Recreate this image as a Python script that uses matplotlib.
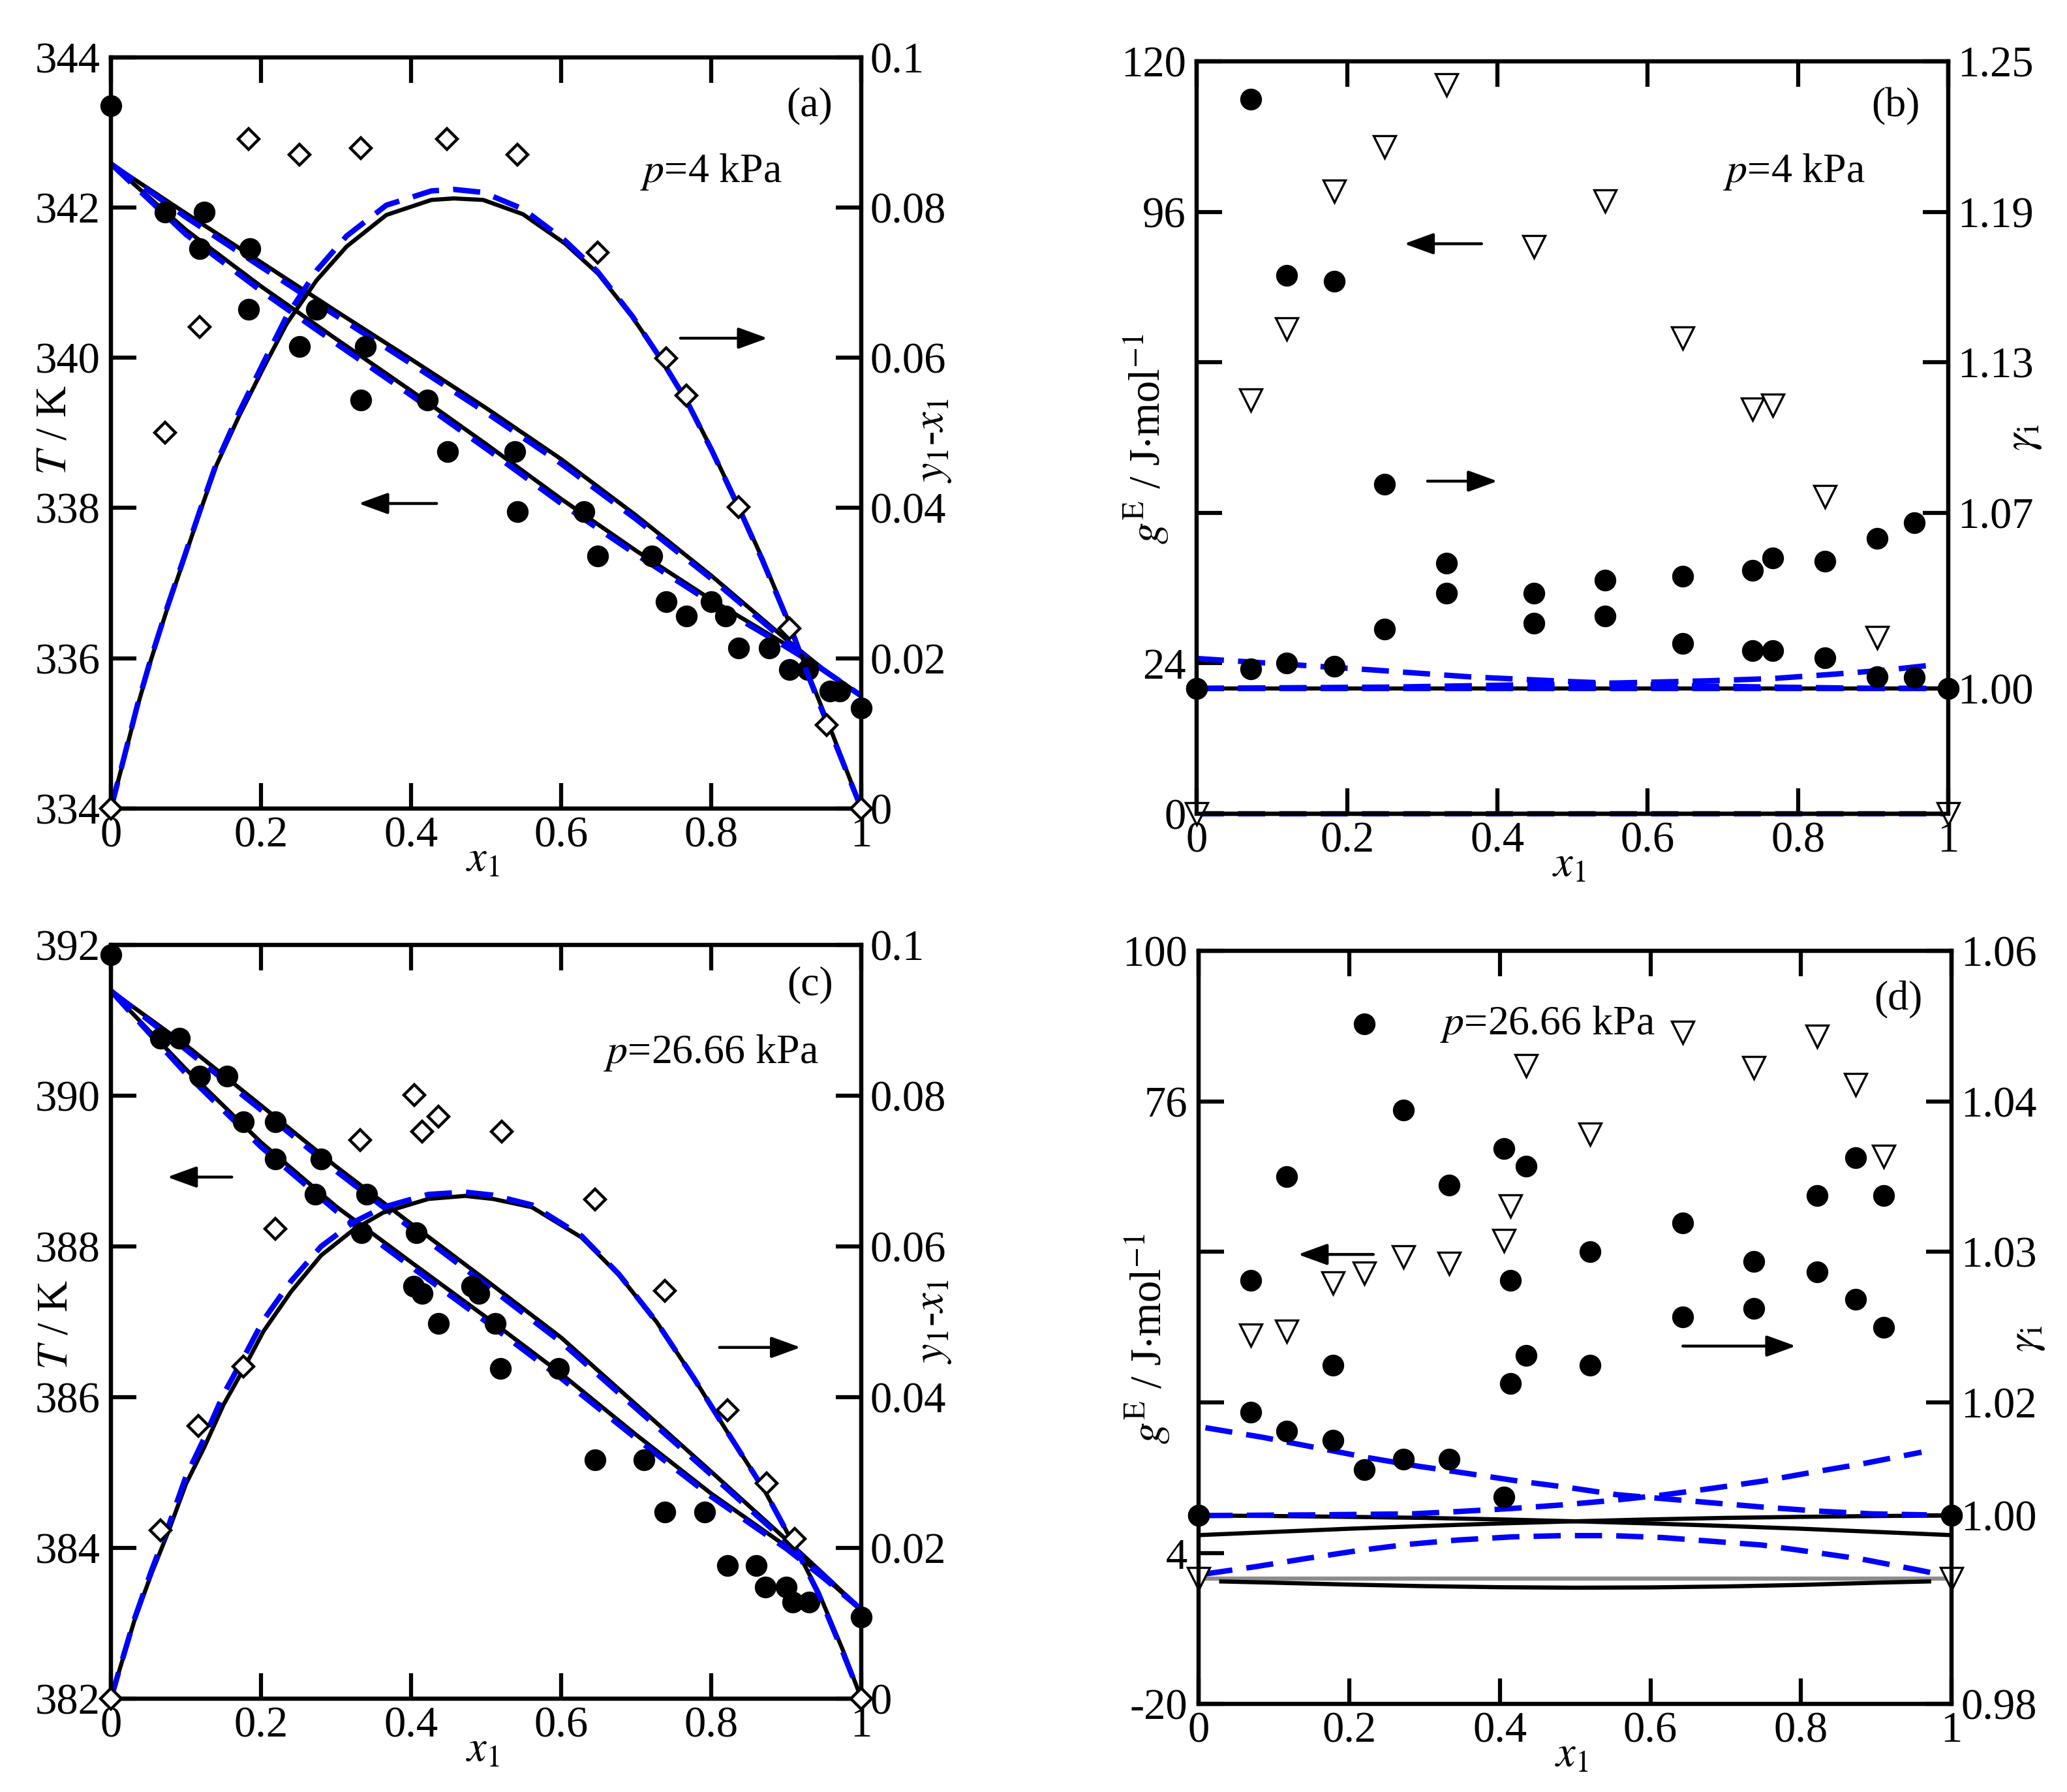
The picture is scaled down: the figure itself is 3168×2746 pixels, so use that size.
import numpy as np
import matplotlib
matplotlib.use('Agg')
import matplotlib.pyplot as plt

plt.rcParams['font.family'] = 'Liberation Serif'
plt.rcParams['mathtext.fontset'] = 'stix'

######### panel (a)  p = 4 kPa
a_x_liq = [0, 0.072, 0.118, 0.183, 0.251, 0.333, 0.449, 0.542, 0.649, 0.740, 0.767, 0.836, 0.904, 0.958, 1.0]
a_T_liq = [343.35, 341.94, 341.45, 340.64, 340.15, 339.44, 338.75, 337.95, 337.36, 336.75, 336.56, 336.14, 335.85, 335.56, 335.34]
a_y_vap = [0.124, 0.185, 0.274, 0.339, 0.422, 0.538, 0.630, 0.721, 0.800, 0.819, 0.877, 0.929, 0.971]
a_T_vap = [341.94, 341.45, 340.64, 340.15, 339.44, 338.75, 337.95, 337.36, 336.75, 336.56, 336.14, 335.85, 335.56]
a_dx = [0, 0.072, 0.118, 0.183, 0.251, 0.333, 0.448, 0.542, 0.649, 0.740, 0.767, 0.836, 0.904, 0.954, 1.0]
a_dy = [0, 0.050, 0.0641, 0.0891, 0.087, 0.0879, 0.0891, 0.087, 0.074, 0.0599, 0.055, 0.0401, 0.024, 0.0111, 0]

grid_x = [0, 0.1, 0.2, 0.3, 0.4, 0.5, 0.6, 0.7, 0.8, 0.9, 0.95, 1.0]
a_dew = [342.58, 341.92, 341.27, 340.62, 339.98, 339.33, 338.65, 337.90, 337.10, 336.25, 335.85, 335.50]
a_bub = [342.58, 341.70, 340.95, 340.25, 339.56, 338.85, 338.12, 337.43, 336.78, 336.18, 335.85, 335.50]
a_dew_b = [342.58, 341.87, 341.21, 340.56, 339.92, 339.27, 338.59, 337.85, 337.06, 336.22, 335.84, 335.50]
a_bub_b = [342.58, 341.64, 340.89, 340.19, 339.50, 338.79, 338.06, 337.38, 336.74, 336.15, 335.84, 335.50]

a_cx = [0, 0.035, 0.053, 0.075, 0.095, 0.118, 0.141, 0.171, 0.204, 0.234, 0.274, 0.314, 0.367, 0.427,
        0.457, 0.496, 0.549, 0.605, 0.649, 0.695, 0.735, 0.768, 0.801, 0.835, 0.868, 0.905, 0.928, 0.962, 1.0]
a_cy = [0, 0.0135, 0.0197, 0.0266, 0.0325, 0.0393, 0.0458, 0.0523, 0.0588, 0.0645, 0.0703, 0.0748, 0.0790, 0.0810,
        0.0812, 0.0810, 0.0791, 0.0752, 0.0712, 0.0654, 0.0595, 0.0542, 0.0477, 0.0405, 0.0333, 0.0245, 0.0183, 0.0098, 0]
a_cy_b = [0, 0.0137, 0.0199, 0.0268, 0.0327, 0.0395, 0.0461, 0.0528, 0.0595, 0.0655, 0.0716, 0.0762, 0.0803, 0.0822,
          0.0824, 0.0820, 0.0798, 0.0756, 0.0714, 0.0655, 0.0595, 0.0541, 0.0476, 0.0404, 0.0331, 0.0243, 0.0180, 0.0095, 0]

######### panel (b)  p = 4 kPa
b_tx = [0, 0.0716, 0.1195, 0.1827, 0.25, 0.3325, 0.4487, 0.543, 0.6465, 0.739, 0.766, 0.836, 0.905, 1.0]
b_gE = [0, 65.95, 77.3, 99.3, 106.4, 116.2, 90.4, 97.7, 75.9, 64.5, 65.1, 50.6, 28.1, 0]
b_cx = [0, 0.0716, 0.1195, 0.1827, 0.25, 0.3325, 0.4487, 0.543, 0.6465, 0.739, 0.766, 0.836, 0.905, 0.955, 1.0]
b_g1 = [1.0, 1.2349, 1.1646, 1.1623, 1.0815, 1.050, 1.0379, 1.0432, 1.0448, 1.0471, 1.0519, 1.0508, 1.0599, 1.0661, 1.0]
b_g2 = [1.0, 1.0077, 1.010, 1.0089, 1.0237, 1.0379, 1.026, 1.0288, 1.018, 1.015, 1.015, 1.0123, 1.0047, 1.0043, 1.0]
b_m1x = [0, 0.118, 0.236, 0.362, 0.497, 0.631, 0.766, 0.9, 1.0]
b_m1 = [1.0119, 1.0096, 1.0073, 1.0046, 1.0027, 1.0011, 1.0005, 1.0, 1.0]
b_m2x = [0, 0.26, 0.513, 0.68, 0.766, 0.85, 0.918, 0.976]
b_m2 = [1.0, 1.0005, 1.0018, 1.003, 1.0039, 1.0057, 1.0073, 1.0092]

######### panel (c)  p = 26.66 kPa
c_x_liq = [0, 0.0664, 0.118, 0.176, 0.219, 0.272, 0.334, 0.403, 0.415, 0.436, 0.519, 0.645, 0.738, 0.822, 0.872, 0.909, 1.0]
c_T_liq = [391.87, 390.76, 390.26, 389.65, 389.16, 388.69, 388.18, 387.47, 387.38, 386.98, 386.38, 385.17, 384.48, 383.77, 383.48, 383.28, 383.08]
c_y_vap = [0.0914, 0.155, 0.219, 0.28, 0.341, 0.407, 0.481, 0.490, 0.512, 0.596, 0.710, 0.791, 0.860, 0.900, 0.930]
c_T_vap = [390.76, 390.26, 389.65, 389.16, 388.69, 388.18, 387.47, 387.38, 386.98, 386.38, 385.17, 384.48, 383.77, 383.48, 383.28]
c_dx = [0, 0.066, 0.116, 0.176, 0.219, 0.332, 0.404, 0.415, 0.436, 0.521, 0.645, 0.738, 0.822, 0.874, 0.911, 1.0]
c_dy = [0, 0.0223, 0.0362, 0.0441, 0.0623, 0.0741, 0.0801, 0.0752, 0.0772, 0.0752, 0.0662, 0.0541, 0.0383, 0.0286, 0.0212, 0]

c_dew = [391.39, 390.67, 389.87, 389.06, 388.30, 387.55, 386.79, 385.90, 385.01, 384.11, 383.65, 383.18]
c_bub = [391.39, 390.35, 389.38, 388.53, 387.79, 387.06, 386.31, 385.50, 384.72, 384.02, 383.62, 383.18]
c_dew_b = [391.39, 390.61, 389.81, 389.00, 388.24, 387.49, 386.73, 385.85, 384.97, 384.08, 383.63, 383.18]
c_bub_b = [391.39, 390.29, 389.32, 388.47, 387.73, 387.00, 386.25, 385.45, 384.68, 383.99, 383.60, 383.18]

c_cx = [0, 0.011, 0.031, 0.054, 0.077, 0.100, 0.124, 0.150, 0.177, 0.203, 0.240, 0.280, 0.323, 0.363, 0.423,
        0.472, 0.509, 0.561, 0.627, 0.677, 0.727, 0.777, 0.820, 0.870, 0.913, 0.943, 0.976, 1.0]
c_cy = [0, 0.0037, 0.0103, 0.0166, 0.0223, 0.0285, 0.0333, 0.0390, 0.0438, 0.0487, 0.0540, 0.0588, 0.0622, 0.0645, 0.0663,
        0.0667, 0.0663, 0.0652, 0.0612, 0.0562, 0.0500, 0.0425, 0.0356, 0.0278, 0.0199, 0.0141, 0.0063, 0]
c_cy_b = [0, 0.0038, 0.0105, 0.0170, 0.0230, 0.0295, 0.0345, 0.0404, 0.0453, 0.0502, 0.0554, 0.0600, 0.0632, 0.0652, 0.0669,
          0.0672, 0.0668, 0.0655, 0.0614, 0.0563, 0.0500, 0.0425, 0.0356, 0.0278, 0.0199, 0.0139, 0.0060, 0]

######### panel (d)  p = 26.66 kPa
d_tx = [0, 0.069, 0.117, 0.178, 0.220, 0.272, 0.333, 0.405, 0.414, 0.435, 0.520, 0.643, 0.737, 0.821, 0.872, 0.910, 1.0]
d_gE = [0, 38.7, 39.4, 47.1, 48.6, 51.2, 50.2, 53.8, 59.3, 81.7, 70.8, 87.0, 81.4, 86.4, 78.7, 67.2, 0]
d_cx = [0, 0.069, 0.117, 0.178, 0.220, 0.272, 0.333, 0.405, 0.414, 0.435, 0.520, 0.643, 0.737, 0.821, 0.872, 0.910, 1.0]
d_g1 = [1.0, 1.0250, 1.0360, 1.0160, 1.0522, 1.0431, 1.0351, 1.0390, 1.0250, 1.0371, 1.0280, 1.0311, 1.0270, 1.0340, 1.0380, 1.0340, 1.0]
d_g2 = [1.0, 1.0110, 1.0090, 1.0080, 1.0049, 1.0060, 1.0060, 1.0020, 1.0140, 1.0170, 1.0160, 1.0211, 1.0220, 1.0259, 1.0230, 1.0200, 1.0]

d_k1 = [0.99792, 0.99826, 0.99860, 0.99889, 0.99916, 0.99939, 0.99959, 0.99975, 0.99986, 0.99995, 1.0]
d_k2 = [1.0, 0.99995, 0.99986, 0.99975, 0.99959, 0.99939, 0.99916, 0.99889, 0.99860, 0.99826, 0.99792]
d_kx = [0, 0.1, 0.2, 0.3, 0.4, 0.5, 0.6, 0.7, 0.8, 0.9, 1.0]
d_kgx = [0.03, 0.1, 0.2, 0.3, 0.4, 0.5, 0.6, 0.7, 0.8, 0.9, 0.97]
d_kgE = [-0.5, -0.7, -1.0, -1.25, -1.42, -1.5, -1.45, -1.3, -1.05, -0.7, -0.5]
d_b1x = [0.009, 0.085, 0.158, 0.224, 0.29, 0.357, 0.423, 0.489, 0.556, 0.622, 0.688, 0.755, 0.828, 0.894, 0.967]
d_b1 = [1.00933, 1.00831, 1.00718, 1.00616, 1.00526, 1.00447, 1.00368, 1.00300, 1.00221, 1.00176, 1.00131, 1.00086, 1.00045, 1.00018, 1.00007]
d_b2x = [0.009, 0.151, 0.284, 0.35, 0.416, 0.483, 0.549, 0.615, 0.682, 0.748, 0.814, 0.881, 0.96]
d_b2 = [1.0, 1.00007, 1.00018, 1.00045, 1.00075, 1.00113, 1.0016, 1.00217, 1.00289, 1.00364, 1.00458, 1.00549, 1.00673]
d_bgx = [0.009, 0.078, 0.145, 0.211, 0.277, 0.344, 0.416, 0.483, 0.549, 0.615, 0.682, 0.748, 0.814, 0.881, 0.954, 0.975]
d_bgE = [0.7, 1.9, 3.2, 4.4, 5.4, 6.1, 6.6, 6.8, 6.8, 6.5, 5.9, 5.3, 4.2, 3.05, 1.36, 0.85]

xt = [0, 0.2, 0.4, 0.6, 0.8, 1.0]
xtl = ['0', '0.2', '0.4', '0.6', '0.8', '1']

FS = 48
LW = 4.6
BLW = 6
BLUE = '#0000ff'
DASH = (5, 2.6)
circ = dict(marker='o', ls='none', color='k', ms=23, clip_on=False, zorder=5)
diam = dict(marker='D', ls='none', mfc='white', mec='k', mew=3.2, ms=16, clip_on=False, zorder=5)
tri = dict(marker='v', ls='none', mfc='white', mec='k', mew=2.4, ms=24, clip_on=False, zorder=5)

fig = plt.figure(figsize=(31.68, 27.46), dpi=100)


def make(rect, ylim, yt, ytl, ylim2, yt2, ytl2):
    ax = fig.add_axes(rect)
    tw = ax.twinx()
    ax.set_xlim(0, 1)
    ax.set_ylim(*ylim)
    tw.set_ylim(*ylim2)
    ax.set_xticks(xt)
    ax.set_xticklabels(xtl)
    ax.set_yticks(yt)
    ax.set_yticklabels(ytl)
    tw.set_yticks(yt2)
    tw.set_yticklabels(ytl2)
    ax.tick_params(axis='x', direction='in', length=28, width=4.5, labelsize=FS, top=True, pad=8)
    ax.tick_params(axis='y', direction='in', length=28, width=4.5, labelsize=FS, right=False, pad=12)
    tw.tick_params(axis='y', direction='in', length=28, width=4.5, labelsize=FS, pad=10)
    for a in (ax, tw):
        for s in a.spines.values():
            s.set_linewidth(4.5)
    ax.text(0.495, -0.068, r'$x_1$', transform=ax.transAxes, ha='center', va='center', fontsize=FS)
    return ax, tw


def arrow(a, x0, x1, y):
    a.annotate('', xy=(x1, y), xytext=(x0, y),
               arrowprops=dict(arrowstyle='-|>,head_length=0.55,head_width=0.2', lw=3.2, color='k',
                               mutation_scale=50, shrinkA=0, shrinkB=0))


######## (a)
ax, tw = make([0.0537, 0.5488, 0.363, 0.4193], (334, 344), [334, 336, 338, 340, 342, 344],
              ['334', '336', '338', '340', '342', '344'],
              (0, 0.1), [0, 0.02, 0.04, 0.06, 0.08, 0.1], ['0', '0.02', '0.04', '0.06', '0.08', '0.1'])
ax.plot(grid_x, a_dew, color='k', lw=LW)
ax.plot(grid_x, a_bub, color='k', lw=LW)
ax.plot(grid_x, a_dew_b, color=BLUE, lw=BLW, dashes=DASH)
ax.plot(grid_x, a_bub_b, color=BLUE, lw=BLW, dashes=DASH)
ax.plot(a_x_liq, a_T_liq, **circ)
ax.plot(a_y_vap, a_T_vap, **circ)
tw.plot(a_cx, a_cy, color='k', lw=LW, clip_on=False)
tw.plot(a_cx, a_cy_b, color=BLUE, lw=BLW, dashes=DASH, clip_on=False)
tw.plot(a_dx, a_dy, **diam)
arrow(ax, 0.434, 0.330, 338.06)
arrow(tw, 0.759, 0.875, 0.0626)
ax.text(-0.075, 0.504, r'$T$ / K', transform=ax.transAxes, rotation=90, ha='center', va='center', fontsize=FS)
tw.text(1.096, 0.49, r'$y_1$-$x_1$', transform=tw.transAxes, rotation=90, ha='center', va='center', fontsize=FS)
tw.text(0.931, 0.935, '(a)', transform=tw.transAxes, ha='center', va='center', fontsize=46)
tw.text(0.80, 0.847, r'$p$=4 kPa', transform=tw.transAxes, ha='center', va='center', fontsize=46)

######## (b)
ax, tw = make([0.579, 0.5459, 0.3636, 0.4199], (0, 120), [0, 24, 48, 72, 96, 120],
              ['0', '24', '', '', '96', '120'],
              (0.95, 1.25), [1.00, 1.07, 1.13, 1.19, 1.25], ['1.00', '1.07', '1.13', '1.19', '1.25'])
ax.plot([0, 1], [0, 0], color='k', lw=LW, clip_on=False)
ax.plot([0, 1], [0, 0], color=BLUE, lw=BLW, dashes=DASH, clip_on=False)
tw.plot([0, 1], [1.0, 1.0], color='k', lw=LW)
tw.plot([0, 1], [1.0, 1.0], color=BLUE, lw=BLW, dashes=DASH)
tw.plot(b_m1x, b_m1, color=BLUE, lw=BLW, dashes=DASH)
tw.plot(b_m2x, b_m2, color=BLUE, lw=BLW, dashes=DASH)
ax.plot(b_tx, b_gE, **tri)
tw.plot(b_cx, b_g1, **circ)
tw.plot(b_cx, b_g2, **circ)
arrow(ax, 0.379, 0.276, 90.9)
arrow(tw, 0.307, 0.40, 1.0826)
ax.text(-0.067, 0.498, r'$g^{\rm E}$ / J$\cdot$mol$^{{-}1}$', transform=ax.transAxes, rotation=90,
        ha='center', va='center', fontsize=FS)
tw.text(1.10, 0.50, r'$\gamma_{\rm i}$', transform=tw.transAxes, rotation=90, ha='center', va='center', fontsize=FS)
tw.text(0.93, 0.94, '(b)', transform=tw.transAxes, ha='center', va='center', fontsize=46)
tw.text(0.795, 0.853, r'$p$=4 kPa', transform=tw.transAxes, ha='center', va='center', fontsize=46)

######## (c)
ax, tw = make([0.0537, 0.0521, 0.363, 0.4206], (382, 392), [382, 384, 386, 388, 390, 392],
              ['382', '384', '386', '388', '390', '392'],
              (0, 0.1), [0, 0.02, 0.04, 0.06, 0.08, 0.1], ['0', '0.02', '0.04', '0.06', '0.08', '0.1'])
ax.plot(grid_x, c_dew, color='k', lw=LW)
ax.plot(grid_x, c_bub, color='k', lw=LW)
ax.plot(grid_x, c_dew_b, color=BLUE, lw=BLW, dashes=DASH)
ax.plot(grid_x, c_bub_b, color=BLUE, lw=BLW, dashes=DASH)
ax.plot(c_x_liq, c_T_liq, **circ)
ax.plot(c_y_vap, c_T_vap, **circ)
tw.plot(c_cx, c_cy, color='k', lw=LW, clip_on=False)
tw.plot(c_cx, c_cy_b, color=BLUE, lw=BLW, dashes=DASH, clip_on=False)
tw.plot(c_dx, c_dy, **diam)
arrow(ax, 0.161, 0.075, 388.92)
arrow(tw, 0.811, 0.919, 0.0466)
ax.text(-0.073, 0.496, r'$T$ / K', transform=ax.transAxes, rotation=90, ha='center', va='center', fontsize=FS)
tw.text(1.096, 0.50, r'$y_1$-$x_1$', transform=tw.transAxes, rotation=90, ha='center', va='center', fontsize=FS)
tw.text(0.932, 0.947, '(c)', transform=tw.transAxes, ha='center', va='center', fontsize=46)
tw.text(0.80, 0.857, r'$p$=26.66 kPa', transform=tw.transAxes, ha='center', va='center', fontsize=46)

######## (d)
ax, tw = make([0.5799, 0.0492, 0.3643, 0.4203], (-20, 100), [-20, 4, 28, 52, 76, 100],
              ['-20', '4', '', '', '76', '100'],
              (0.98, 1.06), [0.98, 1.00, 1.012, 1.028, 1.044, 1.06],
              ['0.98', '1.00', '1.02', '1.03', '1.04', '1.06'])
ax.plot([0, 1], [0, 0], color='#8c8c8c', lw=LW)
ax.plot(d_kgx, d_kgE, color='k', lw=LW)
ax.plot(d_bgx, d_bgE, color=BLUE, lw=BLW, dashes=DASH)
tw.plot(d_kx, d_k1, color='k', lw=LW)
tw.plot(d_kx, d_k2, color='k', lw=LW)
tw.plot(d_b1x, d_b1, color=BLUE, lw=BLW, dashes=DASH)
tw.plot(d_b2x, d_b2, color=BLUE, lw=BLW, dashes=DASH)
ax.plot(d_tx, d_gE, **tri)
tw.plot(d_cx, d_g1, **circ)
tw.plot(d_cx, d_g2, **circ)
arrow(ax, 0.232, 0.132, 51.6)
arrow(tw, 0.643, 0.793, 1.018)
ax.text(-0.068, 0.485, r'$g^{\rm E}$ / J$\cdot$mol$^{{-}1}$', transform=ax.transAxes, rotation=90,
        ha='center', va='center', fontsize=FS)
tw.text(1.10, 0.485, r'$\gamma_{\rm i}$', transform=tw.transAxes, rotation=90, ha='center', va='center', fontsize=FS)
tw.text(0.929, 0.934, '(d)', transform=tw.transAxes, ha='center', va='center', fontsize=46)
tw.text(0.463, 0.902, r'$p$=26.66 kPa', transform=tw.transAxes, ha='center', va='center', fontsize=46)

fig.savefig('out.png', dpi=100)
